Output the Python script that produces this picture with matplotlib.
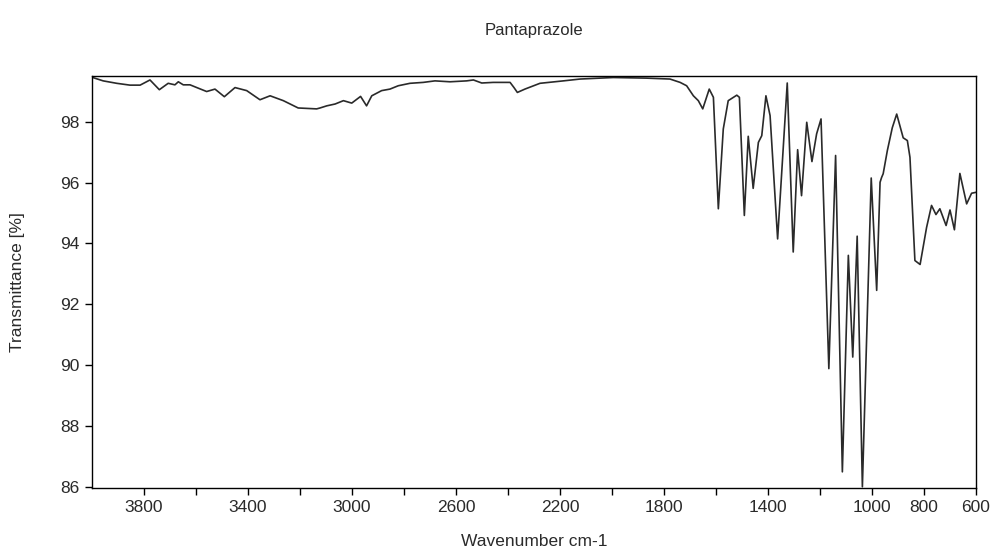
import numpy as np
import matplotlib
matplotlib.use('Agg')
import matplotlib.pyplot as plt

# IR spectrum (wavenumber in cm-1, transmittance in %)
wavenumber = [3997, 3957, 3905, 3854, 3815, 3777, 3741, 3707, 3681, 3668,
              3649, 3623, 3597, 3559, 3527, 3491, 3450, 3405, 3354, 3315,
              3264, 3207, 3136, 3123, 3097, 3065, 3033, 3001, 2967, 2944,
              2924, 2886, 2854, 2822, 2777, 2726, 2681, 2623, 2559, 2533,
              2501, 2457, 2392, 2377, 2364, 2335, 2277, 2187, 2123, 1995,
              1867, 1777, 1738, 1713, 1687, 1668, 1651, 1626, 1610, 1591,
              1572, 1553, 1520, 1510, 1491, 1476, 1457, 1437, 1424, 1408,
              1392, 1363, 1326, 1303, 1286, 1271, 1251, 1231, 1213, 1196,
              1166, 1140, 1114, 1091, 1074, 1057, 1037, 1003, 982, 969,
              963, 957, 941, 922, 905, 880, 864, 854, 835, 815, 790,
              771, 754, 739, 715, 700, 683, 662, 636, 617, 600]
transmittance = [99.45, 99.34, 99.26, 99.20, 99.20, 99.37, 99.05, 99.26, 99.21, 99.31,
                 99.21, 99.21, 99.12, 98.99, 99.07, 98.82, 99.12, 99.02, 98.72, 98.85,
                 98.69, 98.45, 98.42, 98.45, 98.52, 98.58, 98.69, 98.61, 98.83, 98.52,
                 98.85, 99.02, 99.07, 99.18, 99.26, 99.29, 99.34, 99.31, 99.34, 99.37,
                 99.27, 99.29, 99.29, 99.12, 98.96, 99.07, 99.26, 99.34, 99.40, 99.45,
                 99.43, 99.40, 99.29, 99.18, 98.85, 98.69, 98.42, 99.07, 98.80, 95.14,
                 97.76, 98.69, 98.87, 98.80, 94.92, 97.52, 95.81, 97.32, 97.54, 98.85,
                 98.20, 94.15, 99.27, 93.72, 97.08, 95.57, 97.98, 96.69, 97.60, 98.09,
                 89.89, 96.89, 86.50, 93.61, 90.27, 94.24, 86.01, 96.15, 92.46, 96.01,
                 96.17, 96.29, 97.05, 97.80, 98.25, 97.47, 97.38, 96.83, 93.44, 93.31, 94.53,
                 95.25, 94.95, 95.14, 94.59, 95.10, 94.45, 96.30, 95.30, 95.65, 95.68]

xticks = [3800, 3400, 3000, 2600, 2200, 1800, 1400, 1000, 800, 600]
yticks = [86, 88, 90, 92, 94, 96, 98]

plt.rcParams['font.family'] = ['Liberation Sans', 'DejaVu Sans']
plt.rcParams['font.size'] = 12.5

fig = plt.figure(figsize=(9.93, 5.51), dpi=100)
ax = fig.add_axes([92 / 993, 1 - 488 / 551, (976 - 92) / 993, (488 - 76) / 551])

ax.plot(wavenumber, transmittance, color='#2a2a2a', linewidth=1.2)

ax.set_xlim(4000, 600)
ax.set_ylim(85.97, 99.5)
minor = np.arange(3800, 599, -200)
ax.set_xticks(minor)
ax.set_xticklabels([str(t) if t in xticks else '' for t in minor])
ax.set_yticks(yticks)
ax.tick_params(direction='out', length=5, width=1, color='black',
               labelcolor='#2a2a2a', pad=4)
for s in ax.spines.values():
    s.set_linewidth(1.0)
    s.set_color('black')

fig.text(534 / 993, 1 - 30 / 551, 'Pantaprazole', ha='center', va='center',
         fontsize=12, color='#2a2a2a')
fig.text(534 / 993, 1 - 541 / 551, 'Wavenumber cm-1', ha='center', va='center',
         color='#2a2a2a')
fig.text(18 / 993, 1 - 282 / 551, 'Transmittance [%]', ha='center', va='center',
         rotation=90, color='#2a2a2a')

fig.savefig('out.png', dpi=100)
